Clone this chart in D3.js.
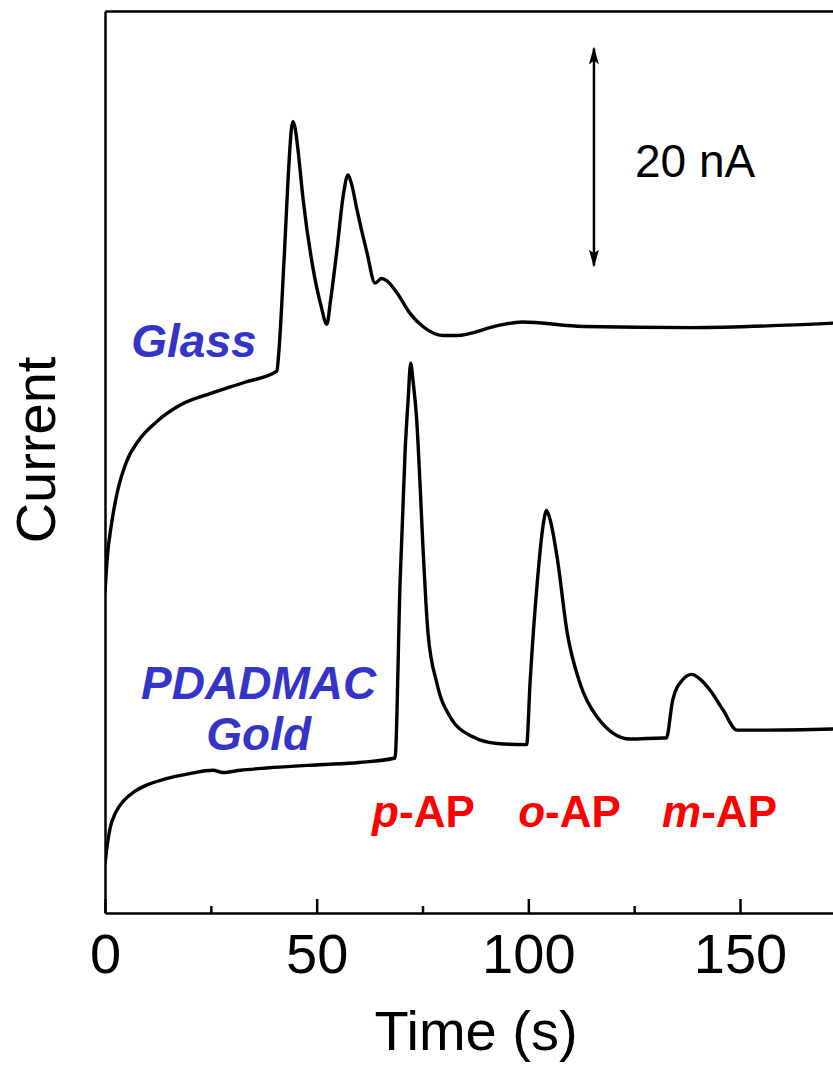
<!DOCTYPE html>
<html>
<head>
<meta charset="utf-8">
<script src="https://cdn.jsdelivr.net/npm/d3@7"></script>
<style>
  body { margin: 0; background: #fff; }
  svg { display: block; }
  text { font-family: "Liberation Sans", Arial, sans-serif; }
</style>
</head>
<body>
<div id="chart"></div>
<script>
// time (s) and current (nA)
var glassTime = [0, 0.5, 1.5, 3, 5, 8, 12, 18, 25, 33, 40.6, 41.0, 42.3, 43.5, 44.0, 44.4, 45.0, 45.6, 46.8, 49.1, 51.0, 52.4,
    53.3, 54.8, 56.3, 57.4, 58.3, 59.5, 61.9, 63.8, 65.3, 66.6, 69, 72, 75.1, 79.8, 83.1, 93, 98.5, 113, 138.4, 172];
var glassCurrent = [28.7, 31.7, 34.8, 37.9, 40.4, 42.4, 44.0, 45.6, 46.6, 47.6, 48.6, 50.0, 58.6, 67.5, 70.2, 71.0, 70.2, 68.4, 64.0, 57.9, 54.5, 52.8,
    55.0, 59.5, 64.4, 66.2, 65.3, 63.1, 59.2, 56.5, 56.9, 56.7, 55.6, 53.8, 52.6, 51.8, 51.8, 52.7, 53.0, 52.6, 52.5, 52.9];

var goldTime = [0, 0.5, 1.2, 2.5, 4.5, 7, 10, 14, 20, 25.5, 27.9, 32, 38.1, 50.6, 60, 68.5, 69.7, 70.9, 71.6, 72.2, 72.8, 73.6, 74.4, 75.1,
    76.3, 78.4, 81.5, 86.9, 92.6, 99.6, 100.4, 102.1, 103.5, 104.3, 105.2, 106.8, 109.2, 112.2, 116.2, 124, 131.8, 132.6, 134.1,
    136.4, 138.6, 140.5, 142.9, 146, 149.3, 156, 172];
var goldCurrent = [4.4, 6.0, 7.6, 9.0, 10.1, 10.9, 11.5, 12.0, 12.5, 12.8, 12.6, 12.8, 13.0, 13.3, 13.5, 13.9, 29.6, 41.5, 46.0, 49.3, 47.6, 44.4, 38.6, 32.9,
    25.1, 20.6, 17.6, 15.8, 15.2, 15.1, 20.6, 29.6, 34.8, 36.1, 35.2, 31.9, 25.1, 20.6, 17.6, 15.6, 15.7, 15.7, 19.1,
    20.9, 21.4, 21.0, 20.0, 18.2, 16.4, 16.4, 16.5];

var xTicks = [0, 50, 100, 150];
var xMinorTicks = [25, 75, 125];

var scaleBarTime = 115.5;
var scaleBarTop = 77.8;
var scaleBarSize = 20;   // nA

var peakLabels = [
    { ital: "p", rest: "-AP", t: 63.1 },
    { ital: "o", rest: "-AP", t: 97.6 },
    { ital: "m", rest: "-AP", t: 131.6 }
];

var width = 833, height = 1065;
var x0 = 105, yBottom = 913, yTop = 11;
var pxPerSec = 635 / 150;

var svg = d3.select("#chart").append("svg")
    .attr("width", width)
    .attr("height", height);

var x = d3.scaleLinear().domain([0, 172]).range([x0, x0 + 172 * pxPerSec]);
var y = d3.scaleLinear().domain([0, (yBottom - yTop) / 11.15]).range([yBottom, yTop]);

var line = d3.line()
    .x(function (d) { return x(d[0]); })
    .y(function (d) { return y(d[1]); })
    .curve(d3.curveMonotoneX);

var glass = d3.zip(glassTime, glassCurrent);
var gold = d3.zip(goldTime, goldCurrent);

var defs = svg.append("defs");
defs.append("clipPath").attr("id", "plotClip")
    .append("rect").attr("x", x0).attr("y", yTop).attr("width", width - x0).attr("height", yBottom - yTop);

// curves
svg.append("g").attr("clip-path", "url(#plotClip)")
    .selectAll("path.trace")
    .data([glass, gold])
    .enter().append("path")
    .attr("class", "trace")
    .attr("d", line)
    .attr("fill", "none")
    .attr("stroke", "#000")
    .attr("stroke-width", 3.4)
    .attr("stroke-linejoin", "round");

// axes
var xAxis = d3.axisBottom(x).tickValues(xTicks).tickSizeInner(-14).tickSizeOuter(0).tickPadding(20);
var gx = svg.append("g").attr("transform", "translate(0," + yBottom + ")").call(xAxis);
gx.selectAll("text").style("font-size", "56px").attr("fill", "#000");

var xMinor = d3.axisBottom(x).tickValues(xMinorTicks).tickSizeInner(-7).tickSizeOuter(0).tickFormat("");
var gxm = svg.append("g").attr("transform", "translate(0," + yBottom + ")").call(xMinor);
gxm.select(".domain").remove();

svg.append("g").attr("transform", "translate(0," + yTop + ")")
    .call(d3.axisTop(x).tickValues([]).tickSizeOuter(0));

svg.append("g").attr("transform", "translate(" + x0 + ",0)")
    .call(d3.axisLeft(y).tickValues([]).tickSizeOuter(0));

svg.selectAll(".domain, .tick line").attr("stroke", "#000").attr("stroke-width", 2.5);

// axis titles
svg.append("text")
    .attr("x", 476).attr("y", 1050)
    .attr("text-anchor", "middle")
    .style("font-size", "56px")
    .text("Time (s)");

svg.append("text")
    .attr("transform", "translate(55,450) rotate(-90)")
    .attr("text-anchor", "middle")
    .style("font-size", "56px")
    .text("Current");

// scale bar
defs.append("marker").attr("id", "arrowHead")
    .attr("viewBox", "0 0 18 10").attr("refX", 16).attr("refY", 5)
    .attr("markerWidth", 18).attr("markerHeight", 10).attr("markerUnits", "userSpaceOnUse")
    .attr("orient", "auto-start-reverse")
    .append("path").attr("d", "M0,0 L18,5 L0,10 L4,5 Z").attr("fill", "#000");

svg.append("line")
    .attr("x1", x(scaleBarTime)).attr("x2", x(scaleBarTime))
    .attr("y1", y(scaleBarTop) + 3).attr("y2", y(scaleBarTop - scaleBarSize) - 3)
    .attr("stroke", "#000").attr("stroke-width", 2.5)
    .attr("marker-start", "url(#arrowHead)")
    .attr("marker-end", "url(#arrowHead)");

svg.append("text")
    .attr("x", 635).attr("y", 177)
    .style("font-size", "46px")
    .text(scaleBarSize + " nA");

// electrode labels
var blue = "#3434c8";
svg.append("text")
    .attr("x", x(6.2)).attr("y", y(49.9))
    .attr("fill", blue)
    .style("font-size", "46px").style("font-weight", "bold").style("font-style", "italic")
    .text("Glass");

var gl = svg.append("text")
    .attr("fill", blue).attr("text-anchor", "middle")
    .style("font-size", "46px").style("font-weight", "bold").style("font-style", "italic");
gl.append("tspan").attr("x", x(36.3)).attr("y", y(19.2)).text("PDADMAC");
gl.append("tspan").attr("x", x(36.3)).attr("y", y(14.6)).text("Gold");

// analyte labels
var pl = svg.selectAll("text.peak")
    .data(peakLabels)
    .enter().append("text")
    .attr("class", "peak")
    .attr("x", function (d) { return x(d.t); })
    .attr("y", y(7.7))
    .attr("fill", "#ff0000")
    .style("font-size", "44px").style("font-weight", "bold");
pl.append("tspan").style("font-style", "italic").text(function (d) { return d.ital; });
pl.append("tspan").text(function (d) { return d.rest; });
</script>
</body>
</html>
